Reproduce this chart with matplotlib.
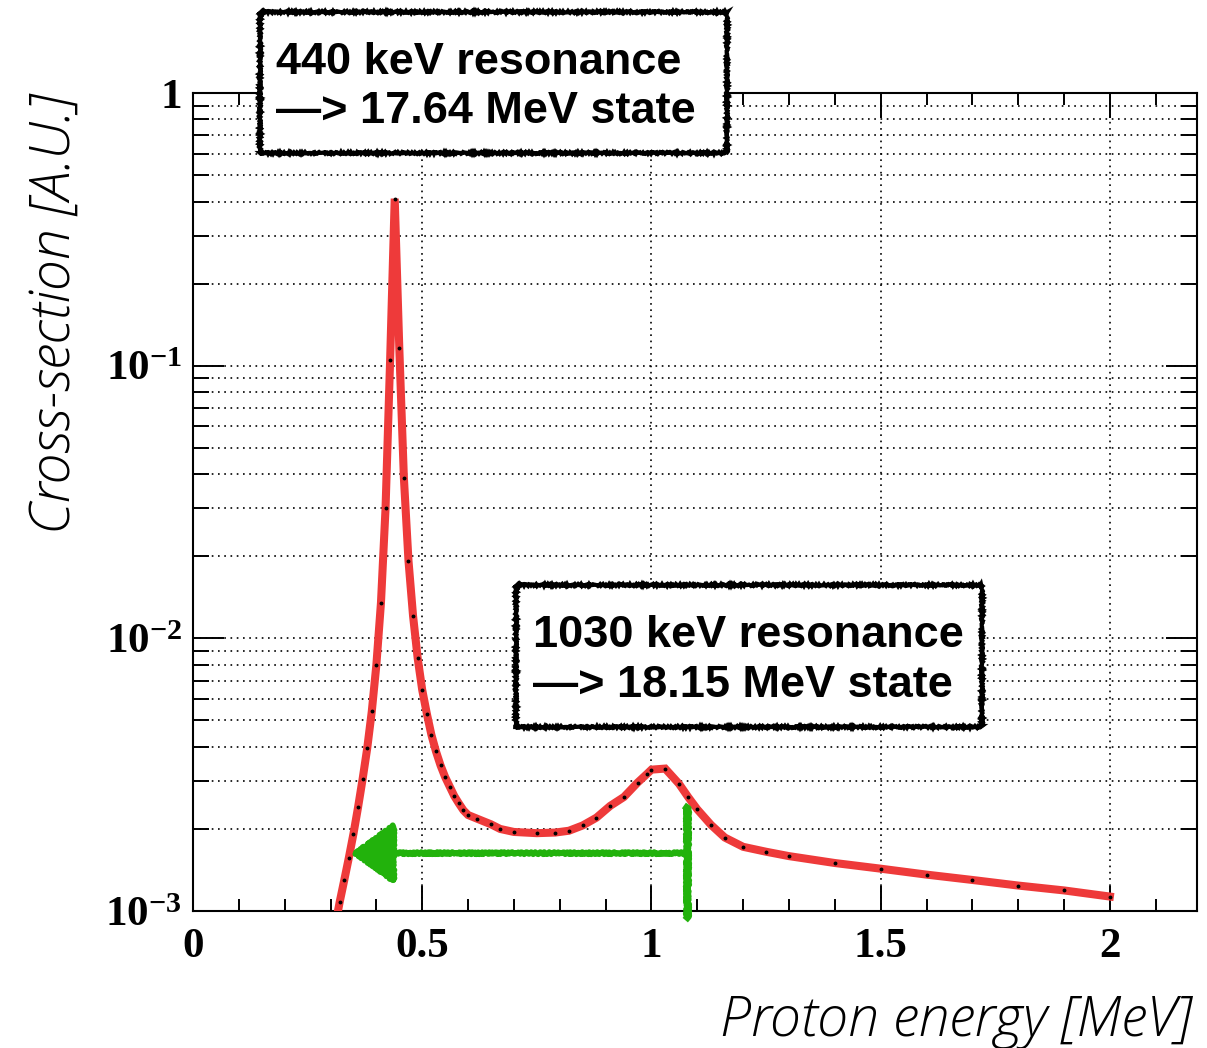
import matplotlib
matplotlib.use("Agg")
import matplotlib.pyplot as plt
from matplotlib.patches import Rectangle
from matplotlib.ticker import LogLocator, MultipleLocator, NullFormatter

# cross-section (proton energy in MeV, arbitrary units)
energy = [0.31, 0.32, 0.33, 0.34, 0.35, 0.36, 0.37, 0.38, 0.39, 0.40,
          0.41, 0.42, 0.43, 0.44, 0.45, 0.46, 0.47, 0.48, 0.49, 0.50,
          0.51, 0.52, 0.53, 0.54, 0.55, 0.56, 0.57, 0.58, 0.59, 0.60,
          0.62, 0.65, 0.67, 0.70, 0.75, 0.79, 0.82, 0.85, 0.88, 0.91,
          0.94, 0.97, 0.99, 1.00, 1.03, 1.06, 1.08, 1.10, 1.13, 1.16,
          1.20, 1.25, 1.30, 1.40, 1.50, 1.60, 1.70, 1.80, 1.90, 2.00]
xsec = [0.00088, 0.00108, 0.00130, 0.00157, 0.00192, 0.00240, 0.00305, 0.00395, 0.0054, 0.0080,
        0.0135, 0.030, 0.105, 0.41, 0.116, 0.0388, 0.0193, 0.0121, 0.00848, 0.00647,
        0.0053, 0.00443, 0.00385, 0.00342, 0.00310, 0.00286, 0.00264, 0.00248, 0.00234, 0.00225,
        0.00218, 0.00208, 0.00200, 0.00195, 0.00193, 0.00194, 0.00197, 0.00206, 0.00220, 0.00243,
        0.00262, 0.00296, 0.00318, 0.00330, 0.00333, 0.00293, 0.00262, 0.00236, 0.00207, 0.00186,
        0.00172, 0.00165, 0.00159, 0.00150, 0.00143, 0.00136, 0.00130, 0.00124, 0.00119, 0.00113]

# hand drawn arrow (energy window)
arrow_y = 0.00163
arrow_from = 1.078
arrow_to = 0.345
bar_lo, bar_hi = 0.00095, 0.0024

ytick_vals = [1e-3, 1e-2, 1e-1, 1]
ytick_labels = [r"$10^{-3}$", r"$10^{-2}$", r"$10^{-1}$", "1"]
xtick_vals = [0, 0.5, 1, 1.5, 2]
xtick_labels = ["0", "0.5", "1", "1.5", "2"]

note1 = "440 keV resonance\n\u2014> 17.64 MeV state"
note2 = "1030 keV resonance\n\u2014> 18.15 MeV state"

red = "#ee3a3a"
green = "#22b20c"

plt.rcParams["mathtext.fontset"] = "custom"
plt.rcParams["mathtext.rm"] = "Liberation Serif:bold"
plt.rcParams["mathtext.bf"] = "Liberation Serif:bold"
plt.rcParams["mathtext.it"] = "Liberation Serif:bold"

fig = plt.figure(figsize=(12.07, 10.48), dpi=100)
ax = fig.add_axes([0.1599, 0.1307, 0.8318, 0.7805])

ax.set_yscale("log")
ax.set_xlim(0, 2.19)
ax.set_ylim(1e-3, 1)

# grid like ROOT: every y sub-decade, major x only
grid_kw = dict(color="black", linestyle=(0, (1, 2.75)), linewidth=1.2)
ax.yaxis.set_minor_locator(LogLocator(base=10, subs=range(2, 10)))
ax.yaxis.set_minor_formatter(NullFormatter())
ax.xaxis.set_minor_locator(MultipleLocator(0.1))
ax.grid(True, which="both", axis="y", **grid_kw)
ax.grid(True, which="major", axis="x", **grid_kw)
ax.set_axisbelow(True)

ax.plot(energy, xsec, color=red, lw=5.8, solid_joinstyle="miter", zorder=3)
ax.plot(energy, xsec, "o", color="black", ms=1.8, zorder=4)

# green arrow, a bit wobbly like a pen stroke
arr = ax.annotate("", xy=(arrow_to, arrow_y), xytext=(arrow_from, arrow_y),
                  arrowprops=dict(arrowstyle="-|>,head_length=0.9,head_width=0.65",
                                  color=green, lw=4, mutation_scale=30,
                                  shrinkA=0, shrinkB=0), zorder=5)
arr.arrow_patch.set_sketch_params(1.2, 4, 2)
bar, = ax.plot([arrow_from, arrow_from], [bar_lo, bar_hi], color=green, lw=5,
               clip_on=False, zorder=5)
bar.set_sketch_params(1.2, 4, 2)

ax.set_xticks(xtick_vals)
ax.set_xticklabels(xtick_labels)
ax.set_yticks(ytick_vals)
ax.set_yticklabels(ytick_labels)
for lab in ax.get_xticklabels() + ax.get_yticklabels():
    lab.set_fontfamily("Liberation Serif")
    lab.set_fontweight("bold")
    lab.set_fontsize(31)

ax.tick_params(which="both", direction="in", top=True, right=True, width=1.4)
ax.tick_params(axis="x", which="major", length=18, pad=12)
ax.tick_params(axis="x", which="minor", length=8.5)
ax.tick_params(axis="y", which="major", length=22, pad=8)
ax.tick_params(axis="y", which="minor", length=11.5)
for s in ax.spines.values():
    s.set_linewidth(1.5)

lab_font = dict(family="Open Sans", style="italic", weight="light", size=40)
fig.text(0.046, 0.70, "Cross-section [A.U.]", rotation=90, ha="center", va="center", **lab_font)
fig.text(0.986, 0.0124, "Proton energy [MeV]", ha="right", va="baseline", **lab_font)

# annotation boxes with rough borders
for (x0, y0, x1, y1), tx, ty, txt in [((0.2154, 0.854, 0.6023, 0.9885), 0.2287, 0.917, note1),
                                       ((0.4275, 0.3063, 0.8136, 0.4418), 0.4416, 0.370, note2)]:
    r = Rectangle((x0, y0), x1 - x0, y1 - y0, transform=fig.transFigure,
                  facecolor="white", edgecolor="black", lw=3, zorder=10)
    r.set_sketch_params(1.0, 3, 2)
    fig.add_artist(r)
    fig.text(tx, ty, txt, ha="left", va="center", family="Liberation Sans",
             weight="bold", size=32.5, linespacing=1.28, zorder=11)

fig.savefig("out.png", dpi=100)
